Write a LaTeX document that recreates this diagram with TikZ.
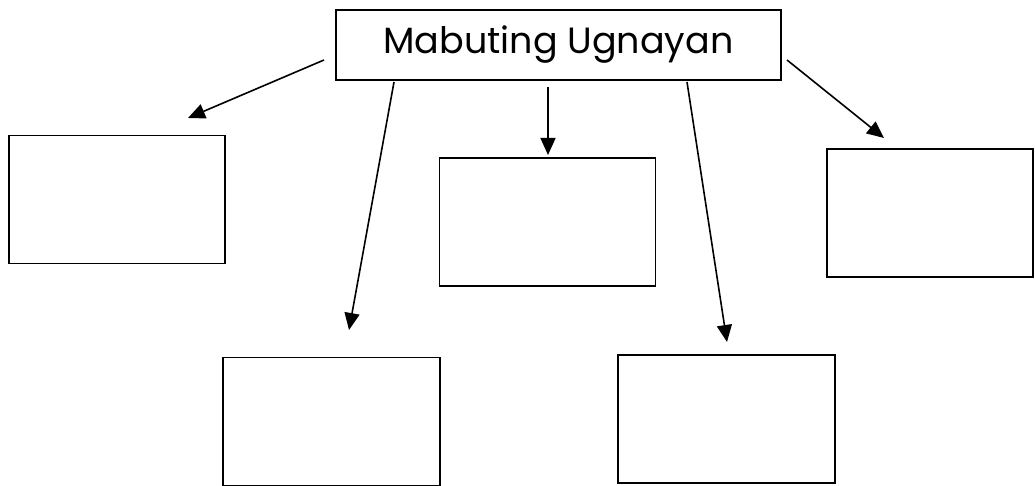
\documentclass[tikz,border=0pt]{standalone}
\usepackage{fontspec}
\setmainfont{Poppins}
\usetikzlibrary{arrows.meta, positioning}

\begin{document}
\begin{tikzpicture}[x=1pt, y=-1pt, ->, >={Triangle[length=17pt, width=15pt]}, line width=1.6pt,
	every node/.style={draw, line width=1.6pt, inner sep=0pt, font=\fontsize{36.5}{40}\selectfont},
	blank_box/.style={minimum width=216pt, minimum height=128pt}]
			\useasboundingbox (0,0) rectangle (1035,486);
			\node[minimum width=445pt, minimum height=70pt] (title_node) at (558.5,45) {Mabuting Ugnayan};
			\node[blank_box] (left_box) at (117,199.5) {};
			\node[blank_box] (mid_box) at (547.5,222) {};
			\node[blank_box, minimum width=206pt] (right_box) at (930,213) {};
			\node[blank_box, minimum width=217pt] (low_left_box) at (331.5,421.5) {};
			\node[blank_box, minimum width=217pt] (low_right_box) at (726.5,419) {};
			% arrow ends
			\coordinate (a_from) at (324,60);	\coordinate (a_to) at (188,118);
			\coordinate (b_from) at (394,82);	\coordinate (b_to) at (349,330);
			\coordinate (c_from) at (548,87);	\coordinate (c_to) at (548,155);
			\coordinate (d_from) at (687,82);	\coordinate (d_to) at (727,342);
			\coordinate (e_from) at (787,60);	\coordinate (e_to) at (884,138);
			\draw 	(a_from) -- (a_to);
			\draw 	(b_from) -- (b_to);
			\draw 	(c_from) -- (c_to);
			\draw 	(d_from) -- (d_to);
			\draw 	(e_from) -- (e_to);
		\end{tikzpicture}
\end{document}
